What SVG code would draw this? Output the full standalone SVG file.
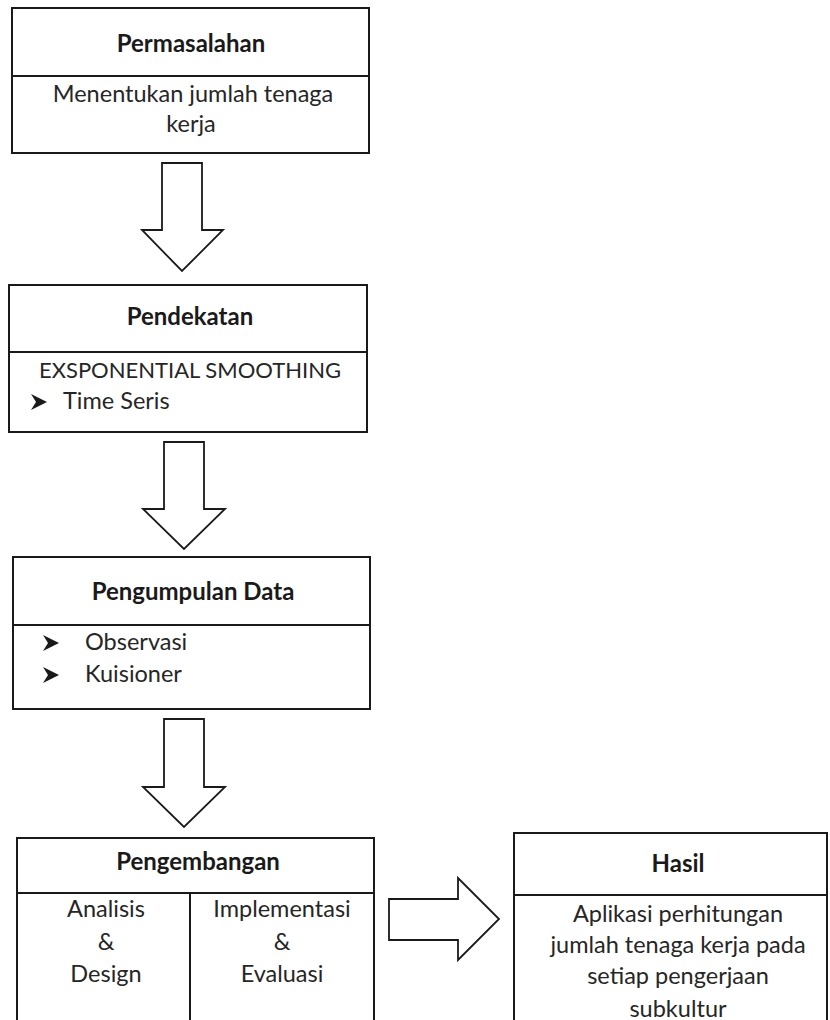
<svg xmlns="http://www.w3.org/2000/svg" width="830" height="1020" viewBox="0 0 830 1020">
<style>
.box{fill:#fff;stroke:#1a1a1a;stroke-width:2}
.ln{stroke:#1a1a1a;stroke-width:2;fill:none}
.arr{fill:#fff;stroke:#1a1a1a;stroke-width:1.8;stroke-linejoin:miter}
.t{font-family:Lato,"Liberation Sans",sans-serif;font-size:24px;font-weight:bold;fill:#1a1a1a;text-anchor:middle}
.b{font-family:Lato,"Liberation Sans",sans-serif;font-size:23.5px;fill:#262626;text-anchor:middle}
.bl{font-family:Lato,"Liberation Sans",sans-serif;font-size:23.5px;fill:#262626}
.bul{fill:#1a1a1a}
</style>
<defs>
<path id="bullet" d="M0,-8 L16,0 L0,8 L5,0 Z"/>
</defs>
<g id="permasalahan">
<rect class="box" x="12" y="8" width="357" height="145"/>
<line class="ln" x1="12" y1="76" x2="369" y2="76"/>
<text class="t" x="191" y="52">Permasalahan</text>
<text class="b" x="193" y="102">Menentukan jumlah tenaga</text>
<text class="b" x="191" y="132">kerja</text>
</g>
<g id="pendekatan">
<rect class="box" x="9" y="285" width="358" height="147"/>
<line class="ln" x1="9" y1="352" x2="367" y2="352"/>
<text class="t" x="190" y="325">Pendekatan</text>
<text class="b" x="190" y="378" style="font-size:22px">EXSPONENTIAL SMOOTHING</text>
<use href="#bullet" class="bul" x="31" y="402"/>
<text class="bl" x="63" y="409">Time Seris</text>
</g>
<g id="pengumpulan">
<rect class="box" x="13" y="557" width="357" height="152"/>
<line class="ln" x1="13" y1="625" x2="370" y2="625"/>
<text class="t" x="193" y="600">Pengumpulan Data</text>
<use href="#bullet" class="bul" x="43" y="643"/>
<text class="bl" x="85" y="650">Observasi</text>
<use href="#bullet" class="bul" x="43" y="675"/>
<text class="bl" x="85" y="682">Kuisioner</text>
</g>
<g id="pengembangan">
<path class="ln" d="M17,1021 L17,838 L374,838 L374,1021"/>
<line class="ln" x1="17" y1="893" x2="374" y2="893"/>
<line class="ln" x1="190" y1="893" x2="190" y2="1021"/>
<text class="t" x="198" y="870">Pengembangan</text>
<text class="b" x="106" y="917">Analisis</text>
<text class="b" x="106" y="950">&amp;</text>
<text class="b" x="106" y="982">Design</text>
<text class="b" x="282" y="917">Implementasi</text>
<text class="b" x="282" y="950">&amp;</text>
<text class="b" x="282" y="982">Evaluasi</text>
</g>
<g id="hasil">
<path class="ln" d="M514,1021 L514,833 L827,833 L827,1021"/>
<line class="ln" x1="514" y1="895" x2="827" y2="895"/>
<text class="t" x="678" y="872">Hasil</text>
<text class="b" x="678" y="922">Aplikasi perhitungan</text>
<text class="b" x="678" y="953">jumlah tenaga kerja pada</text>
<text class="b" x="678" y="984">setiap pengerjaan</text>
<text class="b" x="678" y="1017">subkultur</text>
</g>
<g id="connectors">
<path class="arr" d="M162,163 L202,163 L202,230 L223,230 L182,271 L142,230 L162,230 Z"/>
<path class="arr" d="M164,442 L204,442 L204,509 L225,509 L184,549 L143,509 L164,509 Z"/>
<path class="arr" d="M164,719 L204,719 L204,787 L225,787 L184,827 L143,787 L164,787 Z"/>
<path class="arr" d="M389,899 L458,899 L458,878 L499,919 L458,960 L458,940 L389,940 Z"/>
</g>
</svg>
